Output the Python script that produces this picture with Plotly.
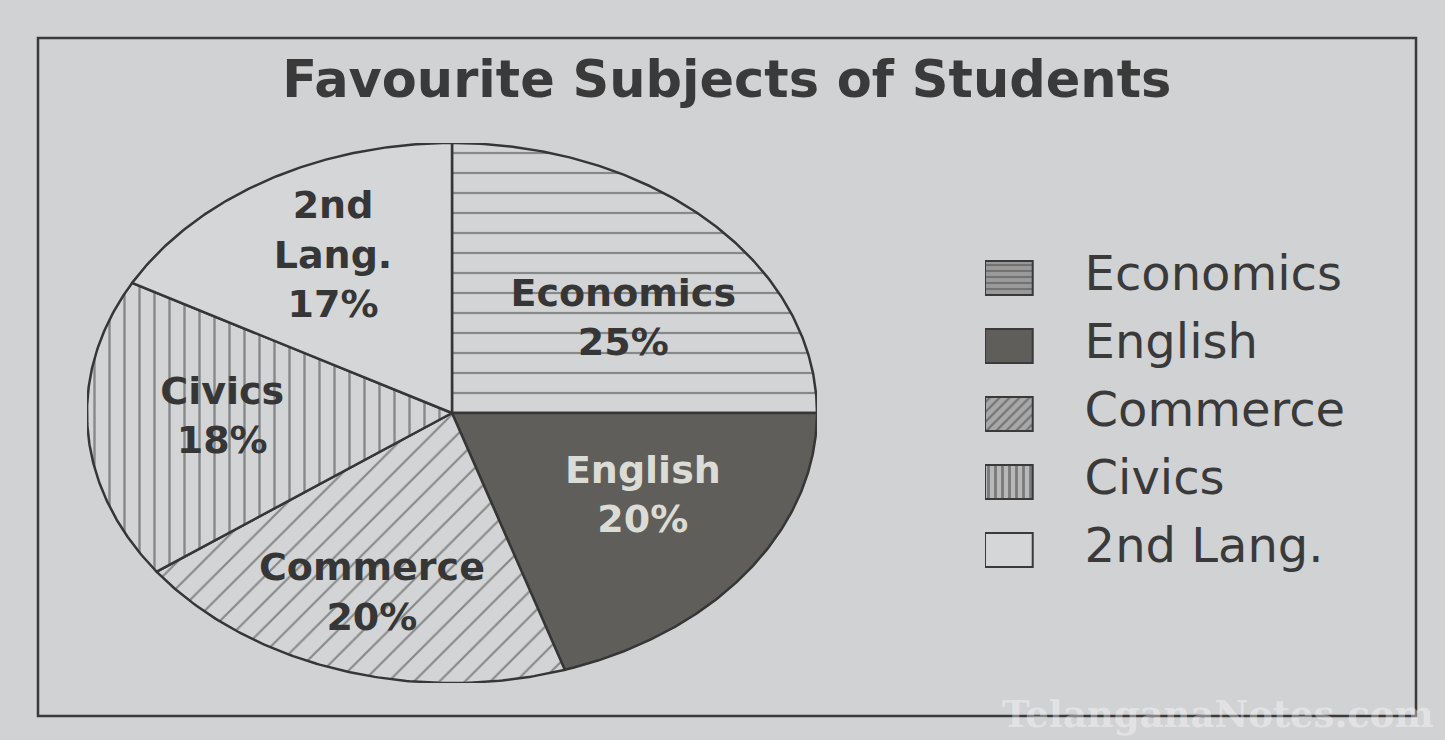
import numpy as np
import plotly.graph_objects as go

# ---- data ----
subjects = ["Economics", "English", "Commerce", "Civics", "2nd Lang."]
percent = [25, 20, 20, 18, 17]
slice_labels = ["Economics<br>25%", "English<br>20%", "Commerce<br>20%", "Civics<br>18%", "2nd<br>Lang.<br>17%"]

# ---- styles ----
INK = "#363636"
PAPER = "#d1d2d4"
LIGHT = "#d3d4d5"
fills = [LIGHT, "#5f5e5a", LIGHT, LIGHT, "#d5d6d7"]
patterns = [
    dict(shape="-", size=20, solidity=0.11, fgcolor="#3c3c3c", bgcolor=LIGHT),
    None,
    dict(shape="/", size=18, solidity=0.12, fgcolor="#3c3c3c", bgcolor=LIGHT),
    dict(shape="|", size=15, solidity=0.16, fgcolor="#3c3c3c", bgcolor=LIGHT),
    None,
]
swatch_patterns = [
    dict(shape="-", size=6, solidity=0.35, fgcolor="#4a4a4a", bgcolor="#9a9a9a"),
    None,
    dict(shape="/", size=7, solidity=0.3, fgcolor="#3c3c3c", bgcolor="#a8a8a8"),
    dict(shape="|", size=7, solidity=0.4, fgcolor="#3c3c3c", bgcolor="#b8b8b8"),
    None,
]
swatch_fills = ["#8a8a8a", "#5f5e5a", "#a8a8a8", "#b8b8b8", "#d5d6d7"]
label_colors = [INK, "#dcdcd6", INK, INK, INK]
label_r = [0.58, 0.61, 0.71, 0.63, 0.66]
label_dang = [9, -5, 0, 1.5, 1]

fig = go.Figure()

total = float(sum(percent))
cum = np.concatenate([[0.0], np.cumsum(percent)]) / total * 360.0
for i, name in enumerate(subjects):
    a0, a1 = cum[i], cum[i + 1]
    th = np.radians(np.linspace(a0, a1, max(int(a1 - a0) * 2, 4)))
    xs = np.concatenate([[0.0], np.sin(th), [0.0]])
    ys = np.concatenate([[0.0], np.cos(th), [0.0]])
    kw = dict(fillpattern=patterns[i]) if patterns[i] else {}
    fig.add_trace(go.Scatter(
        x=xs, y=ys, mode="lines", fill="toself", name=name, showlegend=False,
        fillcolor=fills[i], line=dict(color=INK, width=2.5),
        hoverinfo="name", **kw))

mids = np.radians((cum[:-1] + cum[1:]) / 2.0 + np.array(label_dang))
fig.add_trace(go.Scatter(
    x=np.array(label_r) * np.sin(mids), y=np.array(label_r) * np.cos(mids),
    mode="text", text=slice_labels, showlegend=False, hoverinfo="skip",
    textfont=dict(family="DejaVu Sans", size=38, color=label_colors, weight="bold")))

# ---- legend (swatch boxes + labels on their own axes, one row per subject) ----
SW, SH = 0.115, 0.25
for i, name in enumerate(subjects):
    kw = dict(fillpattern=swatch_patterns[i]) if swatch_patterns[i] else {}
    fig.add_trace(go.Scatter(
        x=[0, SW, SW, 0, 0], y=[i - SH, i - SH, i + SH, i + SH, i - SH],
        xaxis="x2", yaxis="y2", mode="lines", fill="toself", showlegend=False,
        fillcolor=swatch_fills[i], line=dict(color="#3a3a3a", width=2),
        hoverinfo="skip", **kw))
fig.add_trace(go.Scatter(
    x=[0.24] * len(subjects), y=list(range(len(subjects))), xaxis="x2", yaxis="y2",
    mode="text", text=subjects, textposition="middle right", showlegend=False,
    hoverinfo="skip", textfont=dict(family="DejaVu Sans", size=48, color="#3a3a3a")))

W, H = 1445, 740
fig.update_layout(
    width=W, height=H, margin=dict(l=0, r=0, t=0, b=0),
    paper_bgcolor=PAPER, plot_bgcolor="rgba(0,0,0,0)",
    xaxis=dict(domain=[87 / W, 817 / W], range=[-1.0, 1.0], visible=False, fixedrange=True),
    yaxis=dict(domain=[57 / H, 597 / H], range=[-1.0, 1.0], visible=False, fixedrange=True),
    xaxis2=dict(domain=[985 / W, 1400 / W], range=[0, 1], visible=False, fixedrange=True, anchor="y2"),
    yaxis2=dict(domain=[1 - 584 / H, 1 - 244 / H], range=[len(subjects) - 0.5, -0.5],
                visible=False, fixedrange=True, anchor="x2"),
    title=dict(text="<b>Favourite Subjects of Students</b>", x=0.503, xanchor="center",
               y=1 - 79 / H, yanchor="middle",
               font=dict(family="DejaVu Sans", size=51, color="#3a3a3a")),
    shapes=[dict(type="rect", xref="paper", yref="paper",
                 x0=38 / W, x1=1416 / W, y0=1 - 716 / H, y1=1 - 38 / H,
                 line=dict(color="#3a3a3a", width=2.5), layer="below")],
    annotations=[dict(text="<b>TelanganaNotes.com</b>", xref="paper", yref="paper",
                      x=1436 / W, y=1 - 714 / H, xanchor="right", yanchor="middle",
                      showarrow=False,
                      font=dict(family="DejaVu Serif", size=37, color="rgba(255,255,255,0.4)"))],
    showlegend=False,
)

fig.write_html("out.html")
